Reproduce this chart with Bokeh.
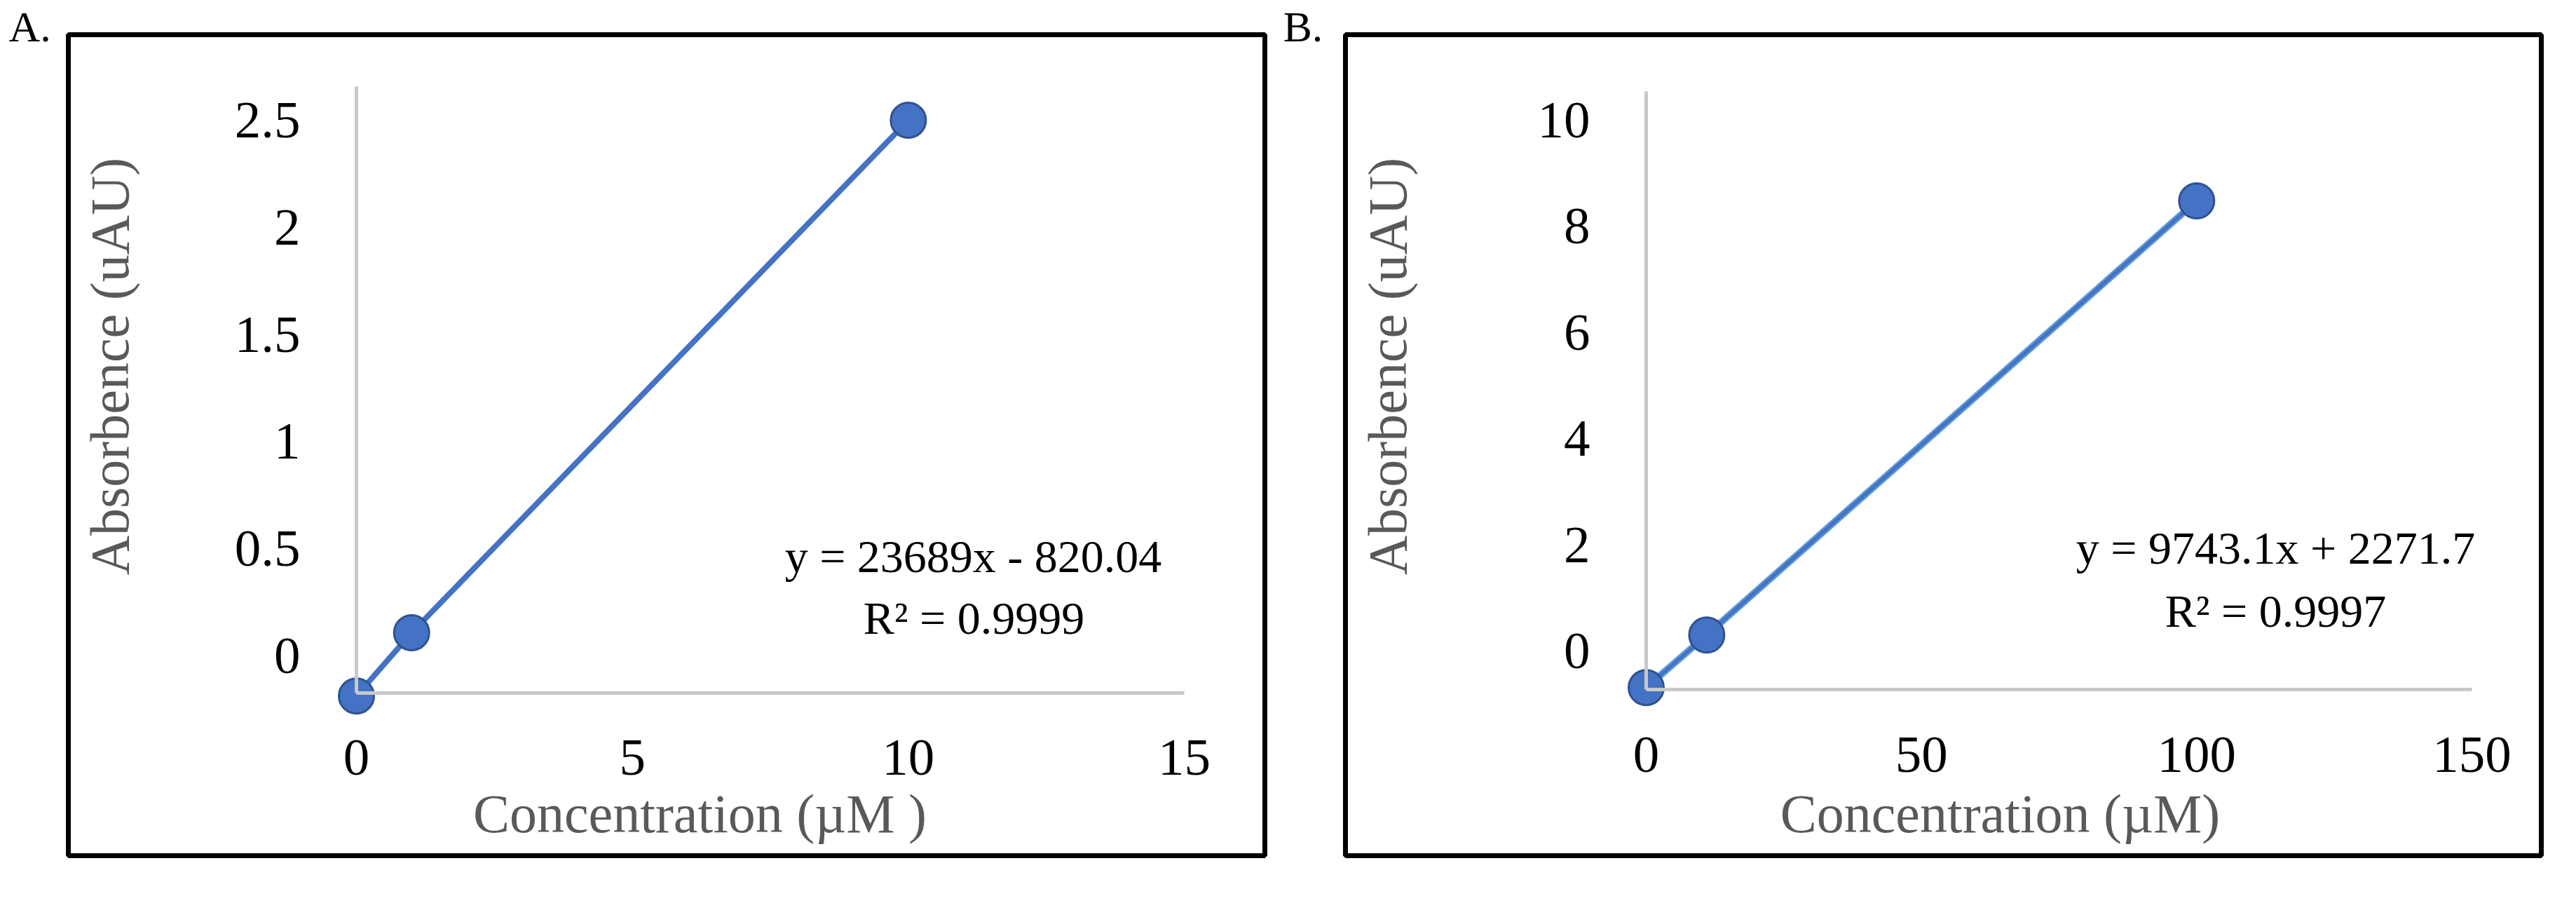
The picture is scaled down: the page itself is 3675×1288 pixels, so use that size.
from bokeh.plotting import figure
from bokeh.layouts import row
from bokeh.models import FixedTicker, Label, BoxAnnotation, Range1d
from bokeh.embed import file_html
from bokeh.resources import INLINE

# ---------------- data ----------------
a_conc = [0, 1, 10]
a_abs = [-0.187, 0.108, 2.5]
a_x_ticks = [0, 5, 10, 15]
a_x_tick_labels = ["0", "5", "10", "15"]
a_y_ticks = [0, 0.5, 1, 1.5, 2, 2.5]
a_y_tick_labels = ["0", "0.5", "1", "1.5", "2", "2.5"]
a_axis_y = (-0.173, 2.657)
a_equation = "y = 23689x - 820.04"
a_r2 = "R² = 0.9999"
a_xtitle = "Concentration (µM )"

b_conc = [0, 11, 100]
b_abs = [-0.69, 0.30, 8.48]
b_x_ticks = [0, 50, 100, 150]
b_x_tick_labels = ["0", "50", "100", "150"]
b_y_ticks = [0, 2, 4, 6, 8, 10]
b_y_tick_labels = ["0", "2", "4", "6", "8", "10"]
b_axis_y = (-0.727, 10.54)
b_equation = "y = 9743.1x + 2271.7"
b_r2 = "R² = 0.9997"
b_xtitle = "Concentration (µM)"

y_title = "Absorbence (uAU)"

FONT = "Liberation Serif"
BLUE = "#4472C4"
BLUE_DARK = "#2F528F"
BLUE_LIGHT = "#5B9BD5"
AXIS_GRAY = "#C9C9C9"
TITLE_GRAY = "#595959"


def panel(letter, conc, absb, xt, xtl, yt, ytl, axis_y, eq, r2, xtitle,
          width, height, origin_x, x0px, xpx, y0px, ypx,
          ytitle_pos, xtitle_pos, eq_pos, r2_pos, letter_pos, box, light_line):
    # frame covers the whole canvas (page coordinates)
    fl, fr, ft, fb = origin_x, origin_x + width, 8, 8 + height
    x_start = (fl - x0px) / xpx
    x_end = (fr - x0px) / xpx
    y_start = -(fb - y0px) / ypx
    y_end = (y0px - ft) / ypx
    p = figure(width=width, height=height, output_backend="svg",
               toolbar_location=None, x_range=Range1d(x_start, x_end),
               y_range=Range1d(y_start, y_end),
               min_border_left=0, min_border_right=0,
               min_border_top=0, min_border_bottom=0)
    p.background_fill_color = "white"
    p.border_fill_color = "white"
    p.outline_line_color = None
    p.xgrid.visible = False
    p.ygrid.visible = False

    sx = lambda px: px - fl
    sy = lambda py: fb - py

    for ax, ticks, labels, bounds in ((p.xaxis[0], xt, xtl, (xt[0], xt[-1])),
                                      (p.yaxis[0], yt, ytl, axis_y)):
        ax.ticker = FixedTicker(ticks=ticks)
        ax.major_label_overrides = {t: l for t, l in zip(ticks, labels)}
        ax.bounds = bounds
        ax.axis_line_color = AXIS_GRAY
        ax.axis_line_width = 5
        ax.major_tick_line_color = None
        ax.minor_tick_line_color = None
        ax.major_tick_out = 0
        ax.major_tick_in = 0
        ax.major_label_text_font = FONT
        ax.major_label_text_font_size = "75px"
        ax.major_label_text_color = "black"
    p.xaxis[0].fixed_location = axis_y[0]
    p.yaxis[0].fixed_location = xt[0]
    p.yaxis[0].major_label_standoff = 80
    p.xaxis[0].major_label_standoff = 68

    p.add_layout(BoxAnnotation(left=sx(box[0]), right=sx(box[1]), top=sy(box[2]), bottom=sy(box[3]),
                               left_units="screen", right_units="screen",
                               top_units="screen", bottom_units="screen",
                               fill_color=None, fill_alpha=0, line_color="black",
                               line_alpha=1.0, line_width=7, level="underlay"))

    if light_line:
        p.line(conc, absb, line_color=BLUE_LIGHT, line_width=10)
        p.line(conc, absb, line_color=BLUE, line_width=5)
    else:
        p.line(conc, absb, line_color=BLUE, line_width=8)
    p.scatter(conc, absb, size=50, fill_color=BLUE, line_color=BLUE_DARK, line_width=3)

    p.add_layout(Label(x=sx(ytitle_pos[0]), y=sy(ytitle_pos[1]), x_units="screen", y_units="screen",
                       text=y_title, angle=1.5708, text_align="center", text_baseline="middle",
                       text_font=FONT, text_font_size="78px", text_color=TITLE_GRAY))
    p.add_layout(Label(x=sx(xtitle_pos[0]), y=sy(xtitle_pos[1]), x_units="screen", y_units="screen",
                       text=xtitle, text_align="center", text_baseline="middle",
                       text_font=FONT, text_font_size="78px", text_color=TITLE_GRAY))
    for t, pos in ((eq, eq_pos), (r2, r2_pos)):
        p.add_layout(Label(x=sx(pos[0]), y=sy(pos[1]), x_units="screen", y_units="screen",
                           text=t, text_align="center", text_baseline="middle",
                           text_font=FONT, text_font_size="66px", text_color="black"))
    p.add_layout(Label(x=sx(letter_pos[0]), y=sy(letter_pos[1]), x_units="screen", y_units="screen",
                       text=letter, text_align="left", text_baseline="middle",
                       text_font=FONT, text_font_size="62px", text_color="black"))
    return p


pa = panel("A.", a_conc, a_abs, a_x_ticks, a_x_tick_labels, a_y_ticks, a_y_tick_labels,
           a_axis_y, a_equation, a_r2, a_xtitle,
           width=1832, height=1272, origin_x=8,
           x0px=516, xpx=(1697 - 516) / 15, y0px=943, ypx=305.6,
           ytitle_pos=(164, 530), xtitle_pos=(1006, 1168), eq_pos=(1396, 801),
           r2_pos=(1397, 889), letter_pos=(20, 45), box=(105, 1812, 57, 1228),
           light_line=False)

pb = panel("B.", b_conc, b_abs, b_x_ticks, b_x_tick_labels, b_y_ticks, b_y_tick_labels,
           b_axis_y, b_equation, b_r2, b_xtitle,
           width=1827, height=1272, origin_x=1840,
           x0px=2356, xpx=(3534 - 2356) / 150, y0px=936, ypx=75.7,
           ytitle_pos=(1987, 530), xtitle_pos=(2861, 1168), eq_pos=(3254, 789),
           r2_pos=(3254, 879), letter_pos=(1838, 45), box=(1927, 3633, 57, 1228),
           light_line=True)

layout = row(pa, pb)
open("out.html", "w").write(file_html(layout, INLINE))
